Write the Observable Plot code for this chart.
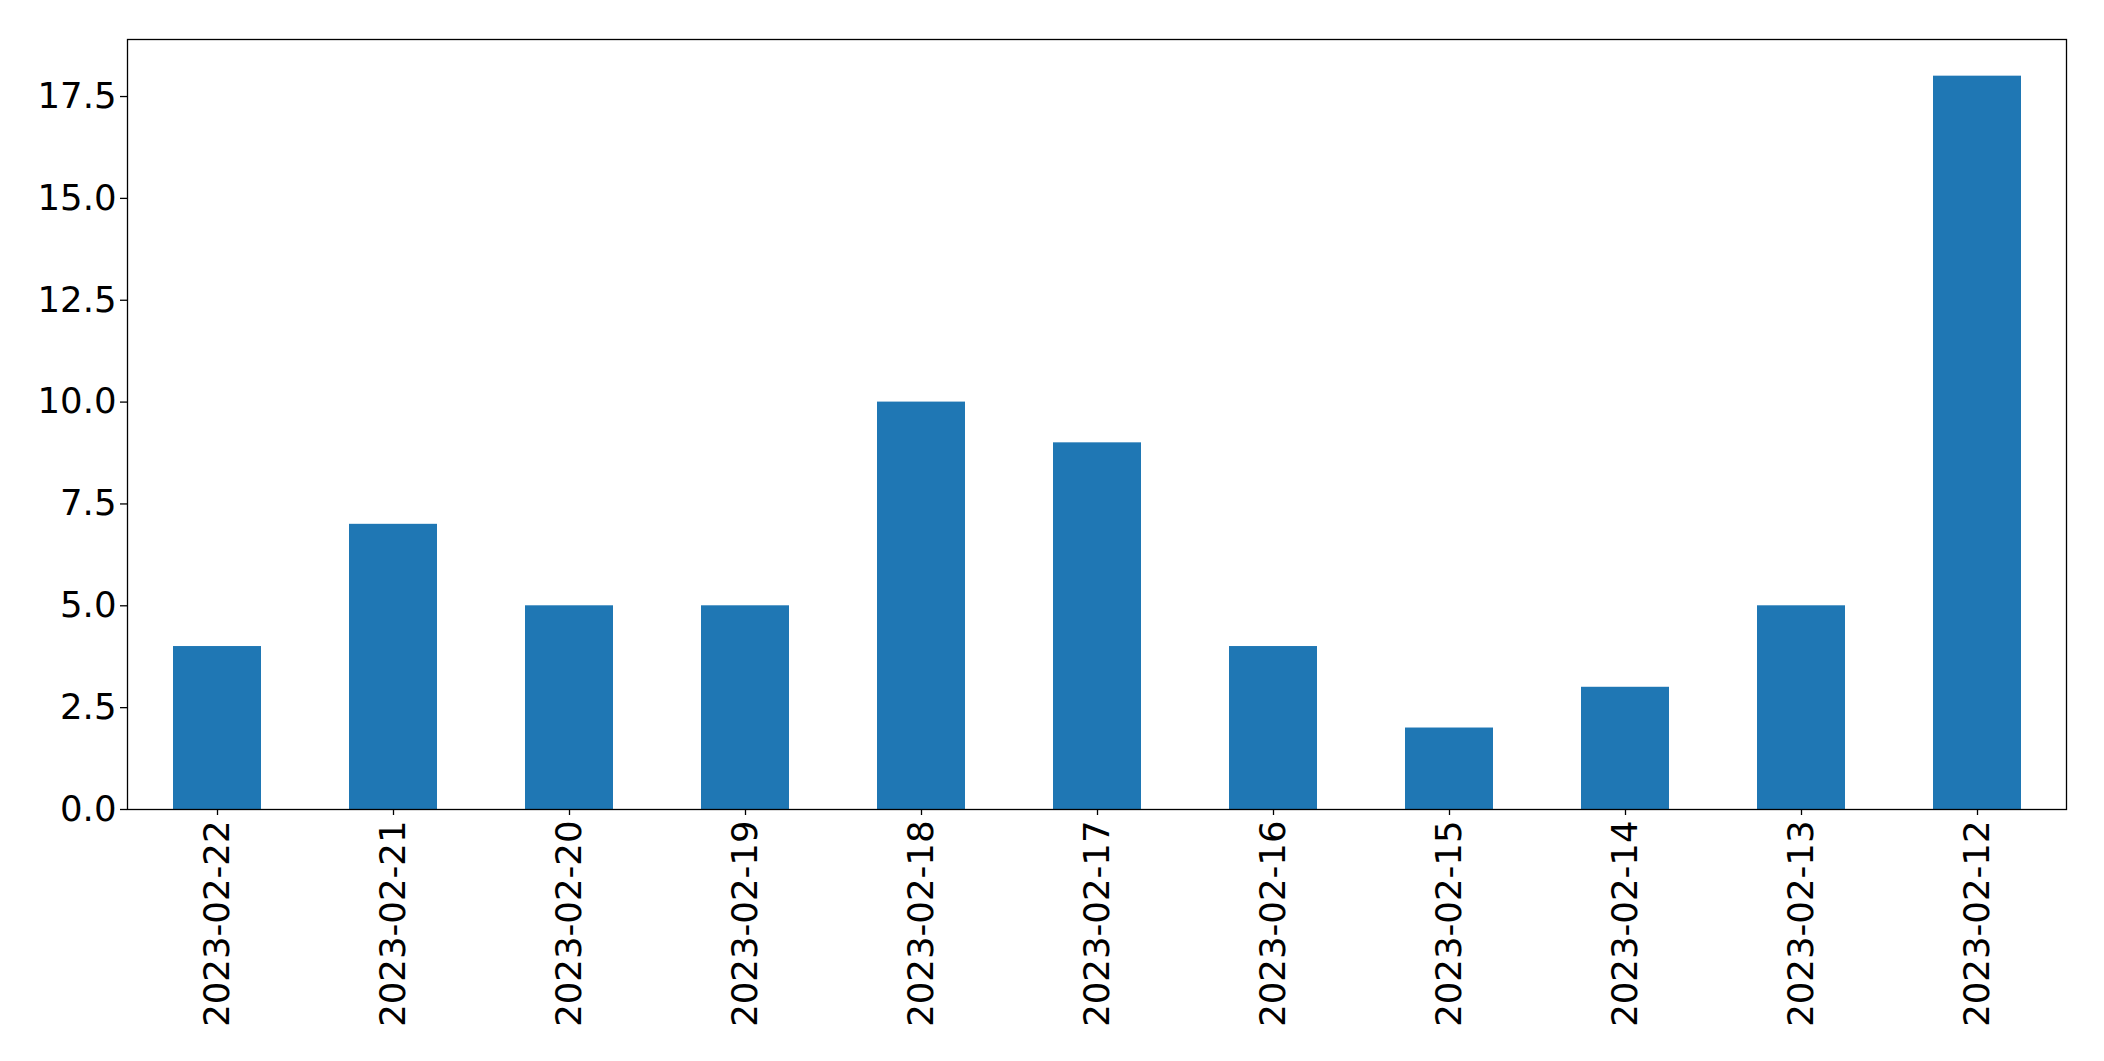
<!DOCTYPE html>
<html>
<head>
<meta charset="utf-8">
<script src="https://cdn.jsdelivr.net/npm/d3@7"></script>
<script src="https://cdn.jsdelivr.net/npm/@observablehq/plot@0.6"></script>
<style>
  html, body { margin: 0; padding: 0; background: #fff; }
  #chart { width: 2104px; height: 1061px; }
</style>
</head>
<body>
<div id="chart"></div>
<script>
const dates = ["2023-02-22","2023-02-21","2023-02-20","2023-02-19","2023-02-18","2023-02-17","2023-02-16","2023-02-15","2023-02-14","2023-02-13","2023-02-12"];
const counts = [4, 7, 5, 5, 10, 9, 4, 2, 3, 5, 18];
const yTicks = [0, 2.5, 5, 7.5, 10, 12.5, 15, 17.5];

const data = dates.map((d, i) => ({date: d, count: counts[i]}));

const chart = Plot.plot({
  width: 2104,
  height: 1061,
  marginLeft: 127,
  marginRight: 38,
  marginTop: 39,
  marginBottom: 252,
  style: {fontFamily: "'DejaVu Sans', sans-serif", fontSize: "35px", color: "#000", background: "#fff"},
  x: {domain: dates, paddingInner: 0.5, paddingOuter: 0.25, align: 0.5, label: null},
  y: {domain: [0, 18.9], label: null},
  marks: [
    Plot.barY(data, {x: "date", y: "count", fill: "#1f77b4", inset: 0}),
    Plot.frame({stroke: "#000", strokeWidth: 1.3}),
    Plot.axisY({ticks: yTicks, tickFormat: d3.format(".1f"), tickSize: 7, tickPadding: 4, fontSize: 35.5, label: null, strokeWidth: 1.3}),
    Plot.axisX({tickRotate: -90, tickSize: 6, tickPadding: 5, fontSize: 35.5, label: null, strokeWidth: 1.3})
  ]
});
document.getElementById("chart").appendChild(chart);
</script>
</body>
</html>
